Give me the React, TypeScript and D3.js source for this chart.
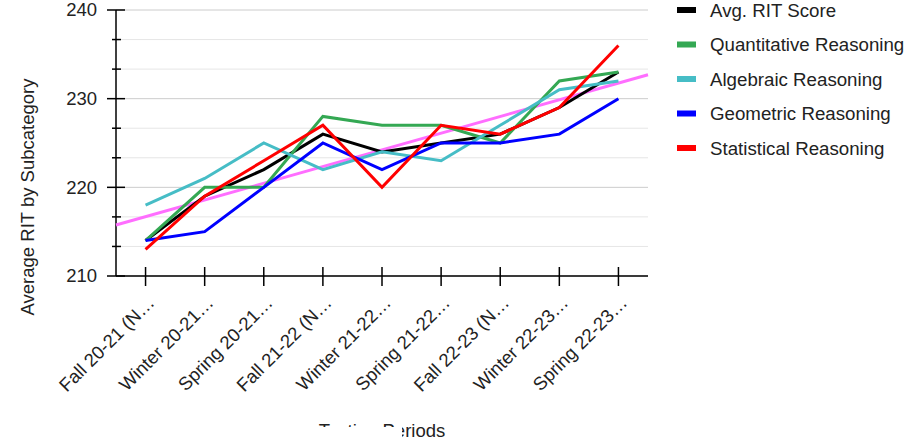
import React from "react";
import * as d3 from "d3";

const periods = [
  "Fall 20-21 (N…",
  "Winter 20-21…",
  "Spring 20-21…",
  "Fall 21-22 (N…",
  "Winter 21-22…",
  "Spring 21-22…",
  "Fall 22-23 (N…",
  "Winter 22-23…",
  "Spring 22-23…",
];

const avgScore = [214, 219, 222, 226, 224, 225, 226, 229, 233];
const quantitative = [214, 220, 220, 228, 227, 227, 225, 232, 233];
const algebraic = [218, 221, 225, 222, 224, 223, 227, 231, 232];
const geometric = [214, 215, 220, 225, 222, 225, 225, 226, 230];
const statistical = [213, 219, 223, 227, 220, 227, 226, 229, 236];

const seriesNames = [
  "Avg. RIT Score",
  "Quantitative Reasoning",
  "Algebraic Reasoning",
  "Geometric Reasoning",
  "Statistical Reasoning",
];
const seriesColors = ["#000000", "#34A853", "#46BDC6", "#0000FF", "#FF0000"];
const seriesData = [avgScore, quantitative, algebraic, geometric, statistical];

const yMajorTicks = [210, 220, 230, 240];

const W = 912;
const H = 443;
const left = 116;
const right = 648;
const top = 10;
const bottom = 276;
const FONT = "'Liberation Sans', Arial, sans-serif";

export default function App() {
  const x = d3.scalePoint<string>().domain(periods).range([left, right]).padding(0.5);
  const y = d3.scaleLinear().domain([210, 240]).range([bottom, top]);
  const allTicks = d3.range(0, 10).map((i) => 210 + (i * 10) / 3);

  const line = d3
    .line<number>()
    .x((_, i) => x(periods[i]) as number)
    .y((d) => y(d));

  // linear trendline of Avg. RIT Score
  const idx = avgScore.map((_, i) => i);
  const mx = d3.mean(idx) as number;
  const my = d3.mean(avgScore) as number;
  const slope =
    d3.sum(idx, (i) => (i - mx) * (avgScore[i] - my)) / d3.sum(idx, (i) => (i - mx) * (i - mx));
  const step = x.step();
  const x0 = x(periods[0]) as number;
  const idxAt = (px: number) => (px - x0) / step;
  const trendY = (px: number) => y(my + slope * (idxAt(px) - mx));

  return (
    <svg width={W} height={H} style={{ position: "absolute", left: 0, top: 0, background: "#fff" }}>
      <rect width={W} height={H} fill="#fff" />
      {/* gridlines */}
      {allTicks.map((t, i) => (
        <line
          key={"g" + i}
          x1={left}
          x2={right}
          y1={y(t)}
          y2={y(t)}
          stroke={i % 3 === 0 ? "#cccccc" : "#e6e6e6"}
          strokeWidth={1}
        />
      ))}
      {/* y ticks */}
      {allTicks.map((t, i) =>
        i % 3 === 0 ? (
          <line key={"t" + i} x1={107} x2={125} y1={y(t)} y2={y(t)} stroke="#000" strokeWidth={1.5} />
        ) : (
          <line key={"t" + i} x1={112} x2={121} y1={y(t)} y2={y(t)} stroke="#000" strokeWidth={1.5} />
        )
      )}
      {yMajorTicks.map((t) => (
        <text
          key={"yl" + t}
          x={97}
          y={y(t)}
          dy="0.35em"
          textAnchor="end"
          fontFamily={FONT}
          fontSize={18.5}
          fill="#222"
        >
          {t}
        </text>
      ))}
      {/* axes */}
      <line x1={left} x2={left} y1={top} y2={bottom} stroke="#000" strokeWidth={1.5} />
      <line x1={left} x2={right} y1={bottom} y2={bottom} stroke="#000" strokeWidth={1.5} />
      {periods.map((p) => (
        <line
          key={"xt" + p}
          x1={x(p)}
          x2={x(p)}
          y1={bottom - 9}
          y2={bottom + 10}
          stroke="#000"
          strokeWidth={1.5}
        />
      ))}
      {periods.map((p) => (
        <text
          key={"xl" + p}
          transform={`translate(${(x(p) as number) + 10},${bottom + 28}) rotate(-45)`}
          textAnchor="end"
          fontFamily={FONT}
          fontSize={18.5}
          fill="#222"
        >
          {p}
        </text>
      ))}
      {/* trendline */}
      <line
        x1={left}
        x2={right}
        y1={trendY(left)}
        y2={trendY(right)}
        stroke="#FF6EFF"
        strokeWidth={3}
      />
      {/* series */}
      {seriesData.map((s, i) => (
        <path
          key={"s" + i}
          d={line(s) as string}
          fill="none"
          stroke={seriesColors[i]}
          strokeWidth={3}
          strokeLinejoin="miter"
        />
      ))}
      {/* legend */}
      {seriesNames.map((n, i) => (
        <g key={"lg" + i} transform={`translate(677,${10 + i * 34.5})`}>
          <rect x={0} y={-3} width={19} height={6} fill={seriesColors[i]} />
          <text x={33} y={0} dy="0.35em" fontFamily={FONT} fontSize={18.7} fill="#222">
            {n}
          </text>
        </g>
      ))}
      {/* axis titles */}
      <text
        transform={`translate(34,${(top + bottom) / 2 + 54}) rotate(-90)`}
        textAnchor="middle"
        fontFamily={FONT}
        fontSize={18.5}
        fill="#222"
      >
        Average RIT by Subcategory
      </text>
      <text
        x={(left + right) / 2}
        y={437}
        textAnchor="middle"
        fontFamily={FONT}
        fontSize={18.5}
        fill="#222"
      >
        Testing Periods
      </text>
      <rect x={318} y={427} width={84} height={16} fill="#fff" />
    </svg>
  );
}
